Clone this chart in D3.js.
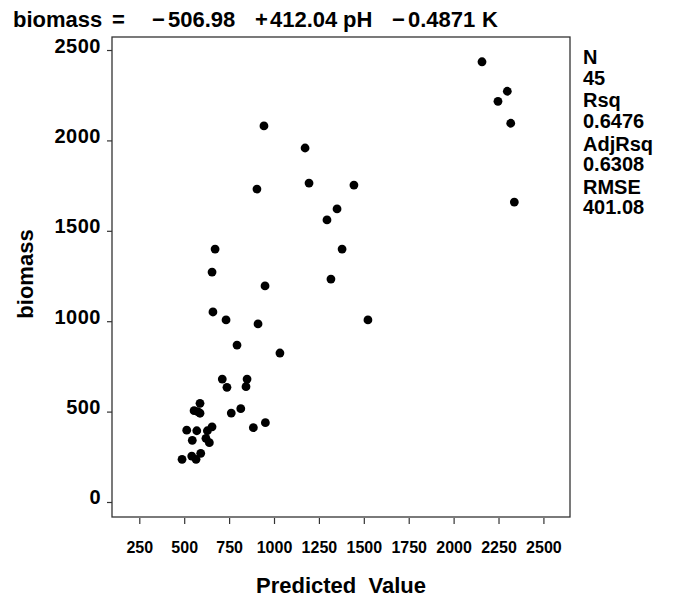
<!DOCTYPE html>
<html>
<head>
<meta charset="utf-8">
<script src="https://cdn.jsdelivr.net/npm/d3@7"></script>
<style>
body { margin: 0; background: #fff; }
text { font-family: "Liberation Sans", Arial, Helvetica, sans-serif; font-weight: bold; fill: #000; }
</style>
</head>
<body>
<div id="chart"></div>
<script>
var predicted = [2158, 2299, 2247, 2318, 2338,
    944, 1173, 905, 1195, 1445, 1351, 1295,
    672, 1379, 655, 950, 1317, 660, 733, 911, 1523, 794, 1033,
    712, 738, 850, 844, 588, 555, 588, 762, 815, 952, 885, 514, 570, 655, 629,
    621, 545, 640, 592, 542, 488, 566, 575];
var biomass = [2435, 2272, 2216, 2095, 1659,
    2080, 1958, 1731, 1764, 1753, 1621, 1560,
    1399, 1399, 1272, 1195, 1233, 1051, 1007, 985, 1007, 868, 824,
    680, 634, 680, 638, 546, 505, 491, 492, 516, 439, 411, 397, 394, 416, 394,
    352, 341, 328, 269, 254, 236, 236, 500];

var xTicks = [250, 500, 750, 1000, 1250, 1500, 1750, 2000, 2250, 2500];
var yTicks = [0, 500, 1000, 1500, 2000, 2500];

var statNames = ["N", "Rsq", "AdjRsq", "RMSE"];
var statValues = ["45", "0.6476", "0.6308", "401.08"];

var eqParts = ["biomass", "=", "\u2212", "506.98", "+", "412.04", "pH", "\u2212", "0.4871", "K"];
var eqX = [13, 112, 152, 168, 255, 270, 343, 392, 408, 482];

var width = 673, height = 598;
var pLeft = 112, pRight = 570, pTop = 37, pBottom = 517;

var svg = d3.select("#chart").append("svg")
    .attr("width", width).attr("height", height);

var x = d3.scaleLinear().domain([98, 2648]).range([pLeft, pRight]);
var y = d3.scaleLinear().domain([-83, 2572]).range([pBottom, pTop]);

// title equation
svg.append("text")
    .attr("y", 27)
    .style("font-size", "22px")
    .selectAll("tspan")
    .data(eqParts)
    .enter().append("tspan")
    .attr("x", function(d, i) { return eqX[i]; })
    .text(function(d) { return d; });

// frame
svg.append("rect")
    .attr("x", pLeft).attr("y", pTop)
    .attr("width", pRight - pLeft).attr("height", pBottom - pTop)
    .attr("fill", "none").attr("stroke", "#333").attr("stroke-width", 1.3);

// y axis
var yAxis = svg.append("g")
    .attr("transform", "translate(" + pLeft + ",0)")
    .call(d3.axisLeft(y).tickValues(yTicks).tickFormat(d3.format("d")).tickSize(5).tickPadding(6));
yAxis.select(".domain").remove();
yAxis.selectAll("line").attr("stroke", "#333").attr("stroke-width", 1.2);
yAxis.selectAll("text")
    .attr("dy", "0.1em")
    .style("font-size", "20px")
    .style("letter-spacing", "0.5px")
    .style("font-family", null);

// x axis
var xAxis = svg.append("g")
    .attr("transform", "translate(0," + (pBottom + 1) + ")")
    .call(d3.axisBottom(x).tickValues(xTicks).tickFormat(d3.format("d")).tickSize(6).tickPadding(18));
xAxis.select(".domain").remove();
xAxis.selectAll("line").attr("stroke", "#333").attr("stroke-width", 1.2);
xAxis.selectAll("text")
    .style("font-size", "16px")
    .style("font-family", null);

// axis titles
svg.append("text")
    .attr("x", (pLeft + pRight) / 2).attr("y", 593)
    .attr("text-anchor", "middle")
    .style("font-size", "22px")
    .style("white-space", "pre")
    .text("Predicted  Value");

svg.append("text")
    .attr("transform", "translate(33,274) rotate(-90)")
    .attr("text-anchor", "middle")
    .style("font-size", "22px")
    .text("biomass");

// points
svg.append("g").selectAll("circle")
    .data(predicted.map(function(d, i) { return [d, biomass[i]]; }))
    .enter().append("circle")
    .attr("cx", function(d) { return x(d[0]); })
    .attr("cy", function(d) { return y(d[1]); })
    .attr("r", 4.4)
    .attr("fill", "#000");

// fit statistics on the right
var stats = svg.append("g").attr("transform", "translate(583,0)");
statNames.forEach(function(name, i) {
    stats.append("text").attr("x", 0).attr("y", 64 + i * 43.3)
        .style("font-size", "20px").text(name);
    stats.append("text").attr("x", 0).attr("y", 85 + i * 43)
        .style("font-size", "20px").text(statValues[i]);
});
</script>
</body>
</html>
